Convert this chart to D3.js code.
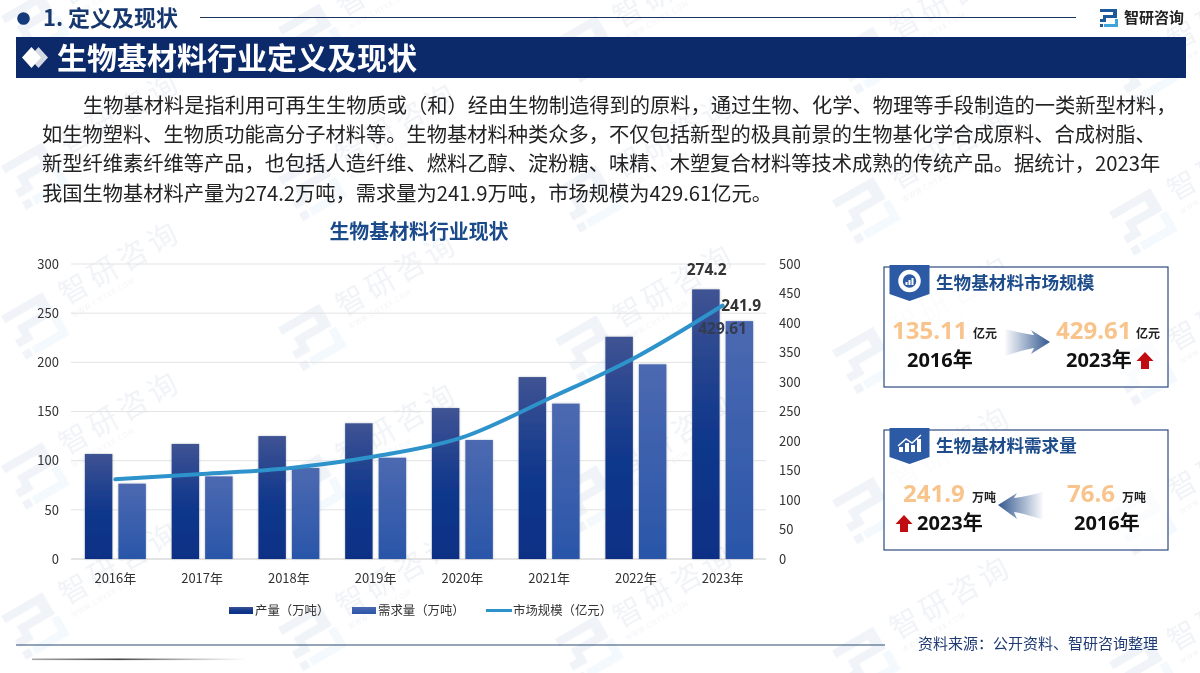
<!DOCTYPE html>
<html>
<head>
<meta charset="utf-8">
<script src="https://cdn.jsdelivr.net/npm/d3@7"></script>
<style>
  html, body { margin: 0; padding: 0; background: #fff; }
  text { font-family: "Noto Sans CJK SC", "Noto Sans", sans-serif; }
  .num { font-family: "Open Sans", "Noto Sans CJK SC", sans-serif; }
</style>
</head>
<body>
<svg id="page" width="1200" height="673"></svg>
<script>
// chart data
var years = ["2016年", "2017年", "2018年", "2019年", "2020年", "2021年", "2022年", "2023年"];
var output = [106.8, 117, 125, 138, 153.5, 185, 226, 274.2]; // 产量
var demand = [76.6, 84, 92.5, 103, 121, 158, 198, 241.9]; // 需求量
var market = [135.11, 144, 154, 174, 206, 272, 342, 429.61]; // 市场规模
var leftTicks = [0, 50, 100, 150, 200, 250, 300];
var rightTicks = [0, 50, 100, 150, 200, 250, 300, 350, 400, 450, 500];
var seriesNames = ["产量（万吨）", "需求量（万吨）", "市场规模（亿元）"];

var paragraph = [
  "生物基材料是指利用可再生生物质或（和）经由生物制造得到的原料，通过生物、化学、物理等手段制造的一类新型材料，",
  "如生物塑料、生物质功能高分子材料等。生物基材料种类众多，不仅包括新型的极具前景的生物基化学合成原料、合成树脂、",
  "新型纤维素纤维等产品，也包括人造纤维、燃料乙醇、淀粉糖、味精、木塑复合材料等技术成熟的传统产品。据统计，2023年",
  "我国生物基材料产量为274.2万吨，需求量为241.9万吨，市场规模为429.61亿元。"
];

var svg = d3.select("#page");
var defs = svg.append("defs");

function gradient(id, stops, horizontal) {
  var g = defs.append("linearGradient").attr("id", id)
    .attr("x1", 0).attr("y1", 0)
    .attr("x2", horizontal ? 1 : 0).attr("y2", horizontal ? 0 : 1);
  stops.forEach(function(s) {
    g.append("stop").attr("offset", s[0]).attr("stop-color", s[1]).attr("stop-opacity", s[2] === undefined ? 1 : s[2]);
  });
}
gradient("barOutput", [[0, "#3f5393"], [0.5, "#12398c"], [1, "#0a2f85"]]);
gradient("barDemand", [[0, "#4c69b1"], [1, "#2a56a9"]]);
gradient("arrowRight", [[0, "#32578f", 0.02], [1, "#32578f", 1]], true);
gradient("arrowLeft", [[0, "#32578f", 1], [1, "#32578f", 0.02]], true);
gradient("fadeLine", [[0, "#555", 0.5], [0.4, "#444", 1], [1, "#888", 0]], true);

var barShadow = defs.append("filter").attr("id", "barShadow")
  .attr("x", "-20%").attr("width", "140%");
barShadow.append("feDropShadow").attr("dx", 0).attr("dy", 0)
  .attr("stdDeviation", 1.2).attr("flood-color", "#8a94a8").attr("flood-opacity", 0.6);

// logo mark, used for the header and the watermark
function logo(g, color, accent) {
  g.append("path").attr("fill", color)
    .attr("d", "M0 0H17V9H6V13H0V10H3V6H13V3H0Z");
  g.append("path").attr("fill", accent)
    .attr("d", "M15 10H18V18H4V15H15Z");
  g.append("rect").attr("x", 0).attr("y", 15).attr("width", 3).attr("height", 3).attr("fill", color);
}

// watermark, repeated over the whole page
var wmRows = d3.range(-2, 3), wmCols = d3.range(0, 5);
var wmCells = d3.cross(wmRows, wmCols);
var wm = svg.append("g").attr("opacity", 0.065);
var wmItem = wm.selectAll("g").data(wmCells).enter().append("g")
  .attr("transform", function(d) {
    return "translate(" + (1 + d[1] * 277) + "," + (316 + d[0] * 150 + d[1] * 11.5) + ") rotate(-30)";
  });
wmItem.each(function() {
  var g = d3.select(this);
  logo(g.append("g").attr("transform", "scale(2.8)"), "#1c5a9c", "#3fa3dc");
  g.append("text").attr("x", 62).attr("y", 24).attr("font-size", 29).attr("fill", "#1c3f7c")
    .attr("letter-spacing", 5).text("智研咨询");
  g.append("text").attr("x", 62).attr("y", 38).attr("font-size", 7).attr("fill", "#1c3f7c")
    .attr("letter-spacing", 1).text("WWW.CHYXX.COM");
});

// page header
svg.append("circle").attr("cx", 23.5).attr("cy", 18.5).attr("r", 6.3).attr("fill", "#143a7c");
svg.append("text").attr("x", 43).attr("y", 26).attr("font-size", 22).attr("font-weight", 700)
  .attr("fill", "#17386f").text("1. 定义及现状");
svg.append("line").attr("x1", 200).attr("x2", 1076).attr("y1", 17.5).attr("y2", 17.5)
  .attr("stroke", "#1b3560").attr("stroke-width", 1);
logo(svg.append("g").attr("transform", "translate(1100,9)"), "#1c5a9c", "#3fa3dc");
svg.append("text").attr("x", 1124).attr("y", 23).attr("font-size", 15).attr("font-weight", 700)
  .attr("fill", "#222").text("智研咨询");

svg.append("rect").attr("x", 16).attr("y", 37).attr("width", 1170).attr("height", 41).attr("fill", "#0c2a69");
svg.append("path").attr("fill", "#d5d9e2").attr("d", "M29 57.5L38.5 47L48 57.5L38.5 68Z");
svg.append("path").attr("fill", "#fff").attr("d", "M22 57.5L31.5 47L41 57.5L31.5 68Z");
svg.append("text").attr("x", 57).attr("y", 68.5).attr("font-size", 30).attr("font-weight", 700)
  .attr("fill", "#fff").text("生物基材料行业定义及现状");

// paragraph
svg.append("g").selectAll("text").data(paragraph).enter().append("text")
  .attr("x", function(d, i) { return i === 0 ? 83 : 42; })
  .attr("y", function(d, i) { return 113 + i * 29.2; })
  .attr("font-size", 20.25).attr("fill", "#222")
  .text(function(d) { return d; });

// chart
var margin = { left: 72, right: 766, top: 264, bottom: 559 };
var x = d3.scaleBand().domain(years).range([margin.left, margin.right]);
var yLeft = d3.scaleLinear().domain([0, 300]).range([margin.bottom, margin.top]);
var yRight = d3.scaleLinear().domain([0, 500]).range([margin.bottom, margin.top]);
var barWidth = 27.5, barGap = 6;

svg.append("text").attr("x", 419).attr("y", 238.5).attr("text-anchor", "middle")
  .attr("font-size", 19.9).attr("font-weight", 700).attr("fill", "#1a4a8a").text("生物基材料行业现状");

svg.append("g").selectAll("line").data(leftTicks).enter().append("line")
  .attr("x1", 71).attr("x2", margin.right)
  .attr("y1", function(d) { return yLeft(d); }).attr("y2", function(d) { return yLeft(d); })
  .attr("stroke", function(d) { return d === 0 ? "#c8c8c8" : "#e3e3e3"; });

var axisLeft = svg.append("g").attr("class", "num").attr("transform", "translate(" + margin.left + ",0)")
  .call(d3.axisLeft(yLeft).tickValues(leftTicks).tickSize(0).tickPadding(13));
var axisRight = svg.append("g").attr("class", "num").attr("transform", "translate(" + margin.right + ",0)")
  .call(d3.axisRight(yRight).tickValues(rightTicks).tickSize(0).tickPadding(13));
var axisBottom = svg.append("g").attr("class", "num").attr("transform", "translate(0," + margin.bottom + ")")
  .call(d3.axisBottom(x).tickSize(0).tickPadding(15));
[axisLeft, axisRight, axisBottom].forEach(function(a) {
  a.select(".domain").remove();
  a.selectAll("text").attr("font-size", 13).attr("fill", "#333");
});

var bars = svg.append("g");
bars.selectAll(".output").data(output).enter().append("rect").attr("class", "output")
  .attr("x", function(d, i) { return x(years[i]) + x.bandwidth() / 2 - barGap / 2 - barWidth; })
  .attr("y", function(d) { return yLeft(d); })
  .attr("width", barWidth)
  .attr("height", function(d) { return margin.bottom - yLeft(d); })
  .attr("fill", "url(#barOutput)").attr("filter", "url(#barShadow)");
bars.selectAll(".demand").data(demand).enter().append("rect").attr("class", "demand")
  .attr("x", function(d, i) { return x(years[i]) + x.bandwidth() / 2 + barGap / 2; })
  .attr("y", function(d) { return yLeft(d); })
  .attr("width", barWidth)
  .attr("height", function(d) { return margin.bottom - yLeft(d); })
  .attr("fill", "url(#barDemand)").attr("filter", "url(#barShadow)");

var line = d3.line()
  .x(function(d, i) { return x(years[i]) + x.bandwidth() / 2; })
  .y(function(d) { return yRight(d); })
  .curve(d3.curveMonotoneX);
svg.append("path").datum(market).attr("d", line).attr("fill", "none")
  .attr("stroke", "#2f93cb").attr("stroke-width", 4).attr("stroke-linecap", "round");

// labels on the last year
var lastX = x(years[7]) + x.bandwidth() / 2;
var valueLabels = [
  { v: output[7], dx: -16, y: yLeft(output[7]) - 19, fill: "#333" },
  { v: demand[7], dx: 18.5, y: yLeft(demand[7]) - 15, fill: "#333" },
  { v: market[7], dx: 0, y: yRight(market[7]) + 23, fill: "#343c50" }
];
svg.append("g").selectAll("text").data(valueLabels).enter().append("text")
  .attr("class", "num")
  .attr("x", function(d) { return lastX + d.dx; })
  .attr("y", function(d) { return d.y + 5; })
  .attr("text-anchor", "middle").attr("font-size", 15.5).attr("font-weight", 700)
  .attr("fill", function(d) { return d.fill; })
  .text(function(d) { return d.v; });

// legend
var legend = svg.append("g");
legend.append("rect").attr("x", 229).attr("y", 607).attr("width", 24).attr("height", 7).attr("fill", "url(#barOutput)");
legend.append("rect").attr("x", 352).attr("y", 607).attr("width", 24).attr("height", 7).attr("fill", "url(#barDemand)");
legend.append("line").attr("x1", 486).attr("x2", 512).attr("y1", 610.5).attr("y2", 610.5)
  .attr("stroke", "#2f93cb").attr("stroke-width", 3);
legend.selectAll("text").data(seriesNames).enter().append("text")
  .attr("x", function(d, i) { return [255, 378, 513][i]; })
  .attr("y", 615).attr("font-size", 12.4).attr("fill", "#333")
  .text(function(d) { return d; });

// side panels
var boxTitle = ["生物基材料市场规模", "生物基材料需求量"];
var startValue = ["135.11", "76.6"];
var endValue = ["429.61", "241.9"];
var startYear = "2016年", endYear = "2023年";

function panel(top, titleText) {
  var g = svg.append("g");
  g.append("rect").attr("x", 884).attr("y", top).attr("width", 284).attr("height", 120)
    .attr("fill", "#fff").attr("fill-opacity", 0.75).attr("stroke", "#2d4a80").attr("stroke-width", 1.2);
  g.append("path").attr("fill", "#2c5aa5")
    .attr("d", "M889.5 " + (top - 2) + "H929.5V" + (top + 27) + "L909.5 " + (top + 34) + "L889.5 " + (top + 27) + "Z");
  g.append("text").attr("x", 936).attr("y", top + 22).attr("font-size", 17.6).attr("font-weight", 700)
    .attr("fill", "#1f4d8c").text(titleText);
  return g;
}
function put(g, str, xPos, yPos, size, fill) {
  g.append("text").attr("class", "num").attr("x", xPos).attr("y", yPos).attr("font-size", size)
    .attr("font-weight", 700).attr("fill", fill).text(str);
}
function upArrow(g, cx, top) {
  g.append("path").attr("fill", "#c00d12")
    .attr("d", "M" + cx + " " + top + "l8.5 9h-4.5v8h-8v-8h-4.5z");
}

var p1 = panel(267, boxTitle[0]);
p1.append("circle").attr("cx", 909.5).attr("cy", 281).attr("r", 9).attr("fill", "none")
  .attr("stroke", "#fff").attr("stroke-width", 4.5);
p1.selectAll(".ib").data([3, 5, 7]).enter().append("rect").attr("class", "ib")
  .attr("x", function(d, i) { return 905.5 + i * 3; })
  .attr("y", function(d) { return 285 - d; })
  .attr("width", 2).attr("height", function(d) { return d; }).attr("fill", "#fff");
put(p1, startValue[0], 892, 339, 24, "#f8c48c");
put(p1, "亿元", 973, 338, 12, "#222");
put(p1, startYear, 907, 367, 20, "#111");
p1.append("path").attr("fill", "url(#arrowRight)")
  .attr("d", "M1005 329Q1024 334 1034 335L1031 330L1050 342L1031 354L1034 348Q1022 350 1005 356Z");
put(p1, endValue[0], 1056, 339, 24, "#f8c48c");
put(p1, "亿元", 1136, 338, 12, "#222");
put(p1, endYear, 1066, 367, 20, "#111");
upArrow(p1, 1145, 352);

var p2 = panel(430, boxTitle[1]);
p2.selectAll(".ib").data([5, 9, 7, 13]).enter().append("rect").attr("class", "ib")
  .attr("x", function(d, i) { return 899 + i * 6; })
  .attr("y", function(d) { return 452 - d; })
  .attr("width", 4).attr("height", function(d) { return d; }).attr("fill", "#fff");
p2.append("path").attr("fill", "none").attr("stroke", "#fff").attr("stroke-width", 1.5)
  .attr("d", "M898 446L906 439L912 443L921 435");
put(p2, endValue[1], 903, 502, 24, "#f8c48c");
put(p2, "万吨", 972, 502, 12, "#222");
put(p2, endYear, 917, 530, 20, "#111");
upArrow(p2, 904, 515);
p2.append("path").attr("fill", "url(#arrowLeft)")
  .attr("d", "M1043 492Q1024 497 1014 498L1017 493L998 505L1017 519L1014 512Q1026 514 1043 520Z");
put(p2, startValue[1], 1067, 502, 24, "#f8c48c");
put(p2, "万吨", 1122, 502, 12, "#222");
put(p2, startYear, 1074, 530, 20, "#111");

// footer
svg.append("line").attr("x1", 16).attr("x2", 885).attr("y1", 645).attr("y2", 645)
  .attr("stroke", "#2d4a75").attr("stroke-width", 1.2);
svg.append("rect").attr("x", 32).attr("y", 658.5).attr("width", 216).attr("height", 1.6).attr("fill", "url(#fadeLine)");
svg.append("text").attr("x", 918).attr("y", 649).attr("font-size", 15).attr("fill", "#1f3a72")
  .text("资料来源：公开资料、智研咨询整理");
</script>
</body>
</html>
